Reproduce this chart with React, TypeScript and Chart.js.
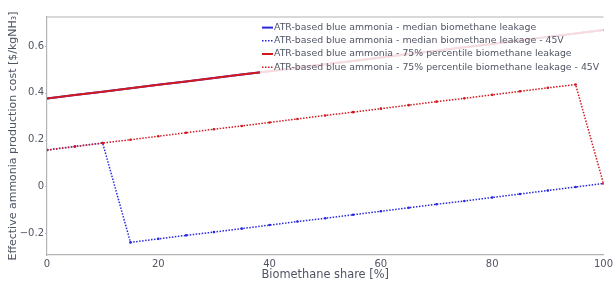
import React, { useEffect, useRef } from "react";
import { Chart, registerables } from "chart.js";

Chart.register(...registerables);

const biomethaneShare = [0, 5, 10, 15, 20, 25, 30, 35, 40, 45, 50, 55, 60, 65, 70, 75, 80, 85, 90, 95, 100];

const medianLeakage = [0.375, 0.39, 0.404, 0.419, 0.434, 0.448, 0.463, 0.478, 0.492, 0.507, 0.522, 0.536, 0.551, 0.566, 0.58, 0.595, 0.609, 0.624, 0.639, 0.653, 0.668];
const medianLeakage45V = [0.155, 0.17, 0.185, -0.24, -0.225, -0.21, -0.196, -0.181, -0.166, -0.151, -0.137, -0.122, -0.107, -0.092, -0.077, -0.063, -0.048, -0.033, -0.018, -0.003, 0.012];
const p75Leakage = [0.375, 0.39, 0.404, 0.419, 0.434, 0.448, 0.463, 0.478, 0.492, 0.507, 0.522, 0.536, 0.551, 0.566, 0.58, 0.595, 0.609, 0.624, 0.639, 0.653, 0.668];
const p75Leakage45V = [0.155, 0.17, 0.185, 0.199, 0.214, 0.229, 0.244, 0.258, 0.273, 0.288, 0.303, 0.317, 0.332, 0.347, 0.362, 0.376, 0.391, 0.406, 0.421, 0.435, 0.012];

const seriesLabels = [
  "ATR-based blue ammonia - median biomethane leakage",
  "ATR-based blue ammonia - median biomethane leakage - 45V",
  "ATR-based blue ammonia - 75% percentile biomethane leakage",
  "ATR-based blue ammonia - 75% percentile biomethane leakage - 45V",
];
const yTicks = [-0.2, 0, 0.2, 0.4, 0.6];
const yTickLabels = ["\u22120.2", "0", "0.2", "0.4", "0.6"];
const xTicks = [0, 20, 40, 60, 80, 100];

const BLUE = "rgb(40,40,225)";
const RED = "rgb(210,25,30)";
const FONT = "'DejaVu Sans', sans-serif";
const TEXT = "#505564";
const AXIS = "#b4b4b4";

const legendPlugin = {
  id: "customLegend",
  afterDatasetsDraw(chart: any) {
    const ctx = chart.ctx as CanvasRenderingContext2D;
    const ds = chart.data.datasets;
    const x0 = 262;
    const y0 = 21;
    const rowH = 13.2;
    ctx.save();
    ctx.font = `9.35px ${FONT}`;
    let maxW = 0;
    ds.forEach((d: any) => (maxW = Math.max(maxW, ctx.measureText(d.label).width)));
    ctx.fillStyle = "rgba(255,255,255,0.85)";
    ctx.fillRect(x0 - 2, y0 - 1, 14 + maxW + 4, rowH * ds.length + 2);
    ds.forEach((d: any, i: number) => {
      const cy = y0 + rowH * i + rowH / 2;
      ctx.strokeStyle = d.borderColor;
      ctx.lineWidth = d.borderWidth;
      ctx.setLineDash(d.borderDash || []);
      ctx.beginPath();
      ctx.moveTo(x0, cy);
      ctx.lineTo(x0 + 11, cy);
      ctx.stroke();
      ctx.setLineDash([]);
      ctx.fillStyle = TEXT;
      ctx.textBaseline = "middle";
      ctx.textAlign = "left";
      ctx.fillText(d.label, x0 + 12, cy);
    });
    ctx.restore();
  },
};

export default function App() {
  const ref = useRef<HTMLCanvasElement>(null);
  useEffect(() => {
    document.body.style.margin = "0";
    const mk = (label: string, data: number[], color: string, dotted: boolean, order: number) => ({
      label,
      data: biomethaneShare.map((x, i) => ({ x, y: data[i] })),
      borderColor: color,
      backgroundColor: color,
      borderWidth: dotted ? 1.5 : 2,
      borderDash: dotted ? [1.5, 1.5] : [],
      pointRadius: dotted ? 1.3 : 0,
      pointBorderWidth: 0,
      pointBackgroundColor: color,
      fill: false,
      tension: 0,
      order,
    });
    const chart = new Chart(ref.current!, {
      type: "line",
      data: {
        datasets: [
          mk(seriesLabels[0], medianLeakage, BLUE, false, 3),
          mk(seriesLabels[1], medianLeakage45V, BLUE, true, 2),
          mk(seriesLabels[2], p75Leakage, RED, false, 1),
          mk(seriesLabels[3], p75Leakage45V, RED, true, 0),
        ] as any,
      },
      options: {
        animation: false,
        responsive: false,
        maintainAspectRatio: false,
        layout: { padding: { left: 7, right: 11, top: 17, bottom: 0 } },
        plugins: {
          legend: { display: false },
          tooltip: { enabled: false },
        },
        scales: {
          x: {
            type: "linear",
            min: 0,
            max: 100,
            afterBuildTicks: (s: any) => {
              s.ticks = xTicks.map((v) => ({ value: v }));
            },
            afterFit: (s: any) => {
              s.height = 29;
            },
            grid: { display: false, drawTicks: false },
            border: { display: true, color: AXIS, width: 1.2 },
            ticks: { color: TEXT, font: { family: FONT, size: 10 }, padding: 3, maxRotation: 0 },
            title: {
              display: true,
              text: "Biomethane share [%]",
              color: TEXT,
              font: { family: FONT, size: 11.4 },
              padding: { top: 0, bottom: 2 },
            },
          },
          y: {
            type: "linear",
            min: -0.294,
            max: 0.724,
            afterBuildTicks: (s: any) => {
              s.ticks = yTicks.map((v) => ({ value: v }));
            },
            afterFit: (s: any) => {
              s.width = 40;
            },
            grid: { display: false },
            border: { display: true, color: AXIS, width: 1.2 },
            ticks: { display: false },
            title: {
              display: true,
              text: "Effective ammonia production cost [$/kgNH\u2083]",
              color: TEXT,
              font: { family: FONT, size: 11 },
              padding: { top: 0, bottom: 0 },
            },
          },
        },
      } as any,
      plugins: [
        legendPlugin,
        {
          id: "yTickLabels",
          afterDraw(chart: any) {
            const { ctx, chartArea, scales } = chart;
            ctx.save();
            ctx.font = `10px ${FONT}`;
            ctx.fillStyle = TEXT;
            ctx.textAlign = "right";
            ctx.textBaseline = "middle";
            ctx.strokeStyle = AXIS;
            ctx.lineWidth = 1;
            yTicks.forEach((t, i) => {
              const py = scales.y.getPixelForValue(t);
              ctx.fillText(yTickLabels[i], chartArea.left - 3, py);
              ctx.beginPath();
              ctx.moveTo(chartArea.left - 2, Math.round(py) + 0.5);
              ctx.lineTo(chartArea.left, Math.round(py) + 0.5);
              ctx.stroke();
            });
            ctx.restore();
          },
        },
        {
          id: "topBorder",
          afterDraw(chart: any) {
            const { ctx, chartArea } = chart;
            ctx.save();
            ctx.strokeStyle = AXIS;
            ctx.lineWidth = 1.2;
            ctx.beginPath();
            ctx.moveTo(chartArea.left, chartArea.top);
            ctx.lineTo(chartArea.right, chartArea.top);
            ctx.stroke();
            ctx.restore();
          },
        },
      ],
    });
    return () => chart.destroy();
  }, []);
  return <canvas ref={ref} width={616} height={284} style={{ display: "block" }} />;
}
